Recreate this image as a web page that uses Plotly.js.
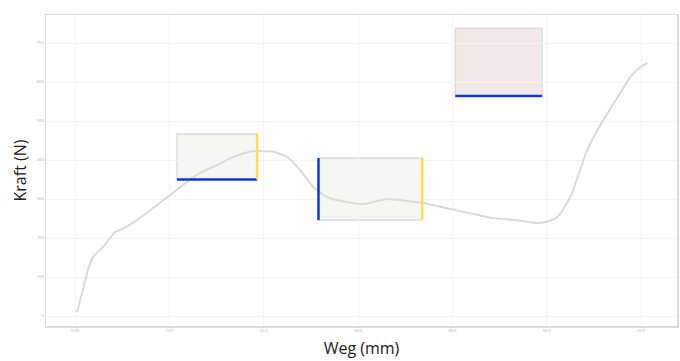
<!DOCTYPE html>
<html>
<head>
<meta charset="utf-8">
<script src="https://cdn.plot.ly/plotly-3.0.1.min.js"></script>
<style>html,body{margin:0;padding:0;background:#fff;}#chart{width:680px;height:361px;}</style>
</head>
<body>
<div id="chart"></div>
<script>
// Curve data: Weg (mm) vs Kraft (N)
const weg = [0.21,0.74,1.27,1.91,2.97,4.24,4.98,6.57,8.27,10.07,11.88,13.26,15.06,16.76,18.88,19.62,21.0,22.48,23.86,25.24,26.72,28.84,30.54,31.60,33.09,35.21,36.90,38.39,41.15,44.33,46.66,48.99,49.84,51.11,52.49,54.30,56.0,57.79,58.85,59.92,60.66];
const kraft = [10,59,110,151,177,215,223,246,277,310,344,367,387,408,423,423,421,408,374,331,305,292,287,292,300,295,290,282,267,251,246,238,241,254,305,426,503,572,613,638,649];

// Highlight boxes (data units)
const boxX0 = [10.8, 25.8, 40.3];
const boxX1 = [19.3, 36.8, 49.5];
const boxY0 = [350, 246, 564];
const boxY1 = [467, 405, 738];

// Tick values / labels
const xTicks = [0,10,20,30,40,50,60];
const xTickText = ["0.00","10.0","20.0","30.0","40.0","50.0","60.0"];
const yTicks = [0,100,200,300,400,500,600,700];
const yTickText = ["0","100","200","300","400","500","600","700"];

const fills = ['rgba(242,242,238,0.7)','rgba(242,242,238,0.7)','rgba(238,226,226,0.8)'];
const shapes = [];
for (let i = 0; i < boxX0.length; i++) {
  shapes.push({type:'rect', xref:'x', yref:'y', x0:boxX0[i], x1:boxX1[i], y0:boxY0[i], y1:boxY1[i],
    fillcolor:fills[i], line:{color:'#dcdcdc', width:1.5}, layer:'below'});
}
// coloured edges
shapes.push({type:'line', xref:'x', yref:'y', x0:boxX0[0], x1:boxX1[0], y0:boxY0[0], y1:boxY0[0], line:{color:'#1238d8', width:2.5}});
shapes.push({type:'line', xref:'x', yref:'y', x0:boxX1[0], x1:boxX1[0], y0:boxY0[0], y1:boxY1[0], line:{color:'#ffdd55', width:2.5}});
shapes.push({type:'line', xref:'x', yref:'y', x0:boxX0[1], x1:boxX0[1], y0:boxY0[1], y1:boxY1[1], line:{color:'#1238d8', width:2.5}});
shapes.push({type:'line', xref:'x', yref:'y', x0:boxX1[1], x1:boxX1[1], y0:boxY0[1], y1:boxY1[1], line:{color:'#ffdd55', width:2.5}});
shapes.push({type:'line', xref:'x', yref:'y', x0:boxX0[2], x1:boxX1[2], y0:boxY0[2], y1:boxY0[2], line:{color:'#1238d8', width:2.5}});

const trace = {x: weg, y: kraft, mode:'lines', type:'scatter',
  line:{color:'#dadada', width:2, shape:'spline', smoothing:0.6}, hoverinfo:'skip'};

const layout = {
  width:680, height:361,
  margin:{l:46, r:3, t:15, b:35},
  paper_bgcolor:'#fff', plot_bgcolor:'#fff',
  showlegend:false,
  shapes: shapes,
  xaxis:{range:[-3.08,63.8], tickvals:xTicks, ticktext:xTickText,
    tickfont:{size:4, color:'#aaa'}, gridcolor:'#f4f4f4', zeroline:false,
    showline:true, mirror:true, linecolor:'#dcdcdc', linewidth:1.5,
    title:{text:'Weg (mm)', font:{family:'Open Sans, sans-serif', size:16, color:'#222'}, standoff:10}},
  yaxis:{range:[-25.6,771.8], tickvals:yTicks, ticktext:yTickText,
    tickfont:{size:4, color:'#aaa'}, gridcolor:'#f4f4f4', zeroline:false,
    showline:true, mirror:true, linecolor:'#dcdcdc', linewidth:1.5,
    title:{text:'Kraft (N)', font:{family:'Open Sans, sans-serif', size:16, color:'#222'}, standoff:6}}
};

Plotly.newPlot('chart', [trace], layout, {staticPlot:true, displayModeBar:false});
</script>
</body>
</html>
